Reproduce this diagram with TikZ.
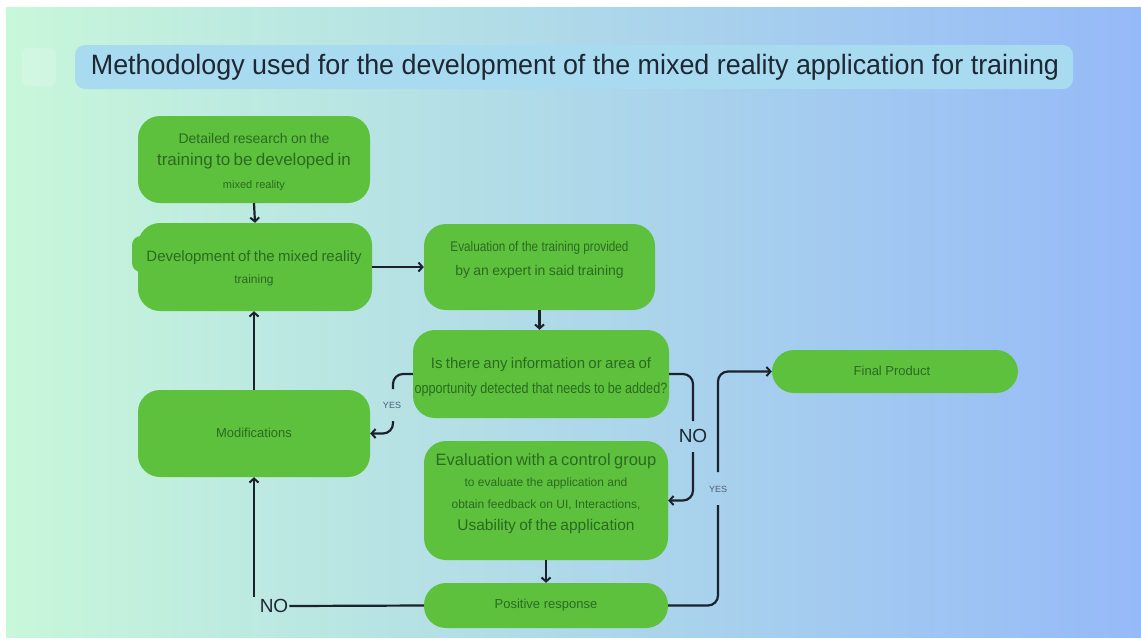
\documentclass[tikz,border=0pt]{standalone}
\usepackage{fontspec}
\setmainfont{Liberation Sans}
\newfontfamily\narrowfont[FakeStretch=0.84]{Liberation Sans}
\newfontfamily\titlefont[FakeStretch=0.96]{Liberation Sans}
\usetikzlibrary{arrows.meta}
\definecolor{bgleft}{HTML}{C8F7DA}
\definecolor{bgmid}{HTML}{B1DFEB}
\definecolor{bgright}{HTML}{95BAF8}
\definecolor{titlefill}{HTML}{A8DBF0}
\definecolor{titleink}{HTML}{1E2733}
\definecolor{boxgreen}{HTML}{5DC13D}
\definecolor{boxink}{HTML}{2C6A22}
\definecolor{lineink}{HTML}{1C222C}
\definecolor{yesink}{HTML}{4D5E72}
\tikzset{
  box/.style={fill=boxgreen, rounded corners=22pt, inner sep=0pt},
  txt/.style={text=boxink, align=center, inner sep=0pt},
  para/.style={txt, text width=262pt},
  conn/.style={draw=lineink, line width=2.2pt, rounded corners=10pt},
  arr/.style={conn, -{Straight Barb[length=4pt,width=9pt,line width=2pt]}},
  yeslbl/.style={text=yesink, font=\fontsize{9}{10}\selectfont, inner sep=1pt},
  nolbl/.style={text=titleink, font=\fontsize{19}{20}\selectfont, inner sep=1pt},
}
\begin{document}
\begin{tikzpicture}[x=1pt,y=-1pt]
\useasboundingbox (0,0) rectangle (1141,641);
% background: white frame and horizontal gradient
\fill[white] (0,0) rectangle (1141,641);
\shade[left color=bgleft, middle color=bgmid, right color=bgright] (6,7) rectangle (1141,637);
\fill[white, opacity=0.18, rounded corners=6pt] (22,48) rectangle (56,86);

% title
\fill[titlefill, rounded corners=10pt] (75,45) rectangle (1073,89);
\node[text=titleink, font=\titlefont\fontsize{28}{30}\selectfont, inner sep=0pt] (title) at (575,67)
  {Methodology used for the development of the mixed reality application for training};

% boxes (each text block is a small paragraph, one line per \par)
\node[box, minimum width=232pt, minimum height=87pt] (b1) at (254,159.5) {};
\node[para] (b1t) at (254,162.5) {\fontsize{14}{16}\selectfont Detailed research on the\par
  \fontsize{17}{22}\selectfont training to be developed in\par
  \fontsize{11}{23}\selectfont mixed reality\par};

\fill[boxgreen, rounded corners=9pt] (132,236) rectangle (162,272);
\node[box, minimum width=234pt, minimum height=88pt] (b2) at (255,267) {};
\node[para] (b2t) at (254,268.5) {\fontsize{15}{17}\selectfont Development of the mixed reality\par
  \fontsize{12}{22}\selectfont training\par};

\node[box, minimum width=231pt, minimum height=86pt] (b3) at (539.5,267) {};
\node[para] (b3t) at (539.5,260) {\narrowfont\fontsize{14}{16}\selectfont Evaluation of the training provided\par
  \normalfont\fontsize{14}{24}\selectfont by an expert in said training\par};

\node[box, minimum width=256pt, minimum height=88pt] (b4) at (541,374) {};
\node[para] (b4t) at (541,377) {\fontsize{15}{17}\selectfont Is there any information or area of\par
  \narrowfont\fontsize{15}{24.5}\selectfont opportunity detected that needs to be added?\par};

\node[box, minimum width=232pt, minimum height=87pt] (mod) at (254,433.5) {};
\node[txt, font=\fontsize{13}{15}\selectfont] (modt) at (254,433) {Modifications};

\node[box, minimum width=244pt, minimum height=119pt] (b5) at (546,500.5) {};
\node[para] (b5t) at (546,494) {\fontsize{16.5}{19}\selectfont Evaluation with a control group\par
  \fontsize{12}{21}\selectfont to evaluate the application and\par
  \fontsize{12}{22}\selectfont obtain feedback on UI, Interactions,\par
  \fontsize{15.5}{22}\selectfont Usability of the application\par};

\node[box, minimum width=244pt, minimum height=45pt] (b6) at (546,605.5) {};
\node[txt, font=\fontsize{13}{15}\selectfont] (b6t) at (546,605) {Positive response};

\node[box, minimum width=246pt, minimum height=43pt] (fp) at (895,371.5) {};
\node[txt, font=\fontsize{13}{15}\selectfont] (fpt) at (892,371) {Final Product};

% straight connectors
\draw[arr] (b1.south) -- (b2.south |- b2.north);
\draw[arr] (b2.east) -- (b3.west);
\draw[arr] (b3.south) -- (b4.north -| b3.south);
\draw[arr] (b5.south) -- (b6.north);
\draw[arr] (mod.north) -- (b2.south -| mod.north);

% YES branch of the decision
\coordinate (ya) at (393,389);
\coordinate (yb) at (393,421);
\node[yeslbl] (yes1) at (392,405) {YES};
\draw[conn] (b4.west) -| (ya);
\draw[arr] (yb) |- (mod.east);

% NO branch of the decision
\coordinate (na) at (693,421);
\coordinate (nb) at (693,452);
\node[nolbl] (no1) at (693,436) {NO};
\draw[conn] (b4.east) -| (na);
\draw[arr] (nb) |- (b5.east);

% NO branch of the response
\node[nolbl] (no2) at (274,606) {NO};
\coordinate (nc) at (254,597);
\draw[conn] (b6.west) -- (no2.east);
\draw[arr] (nc) -- (mod.south);

% YES branch of the response
\coordinate (yc) at (718,505);
\coordinate (yd) at (718,472);
\node[yeslbl] (yes2) at (718,489) {YES};
\draw[conn] (b6.east) -| (yc);
\draw[arr] (yd) |- (fp.west);
\end{tikzpicture}
\end{document}
